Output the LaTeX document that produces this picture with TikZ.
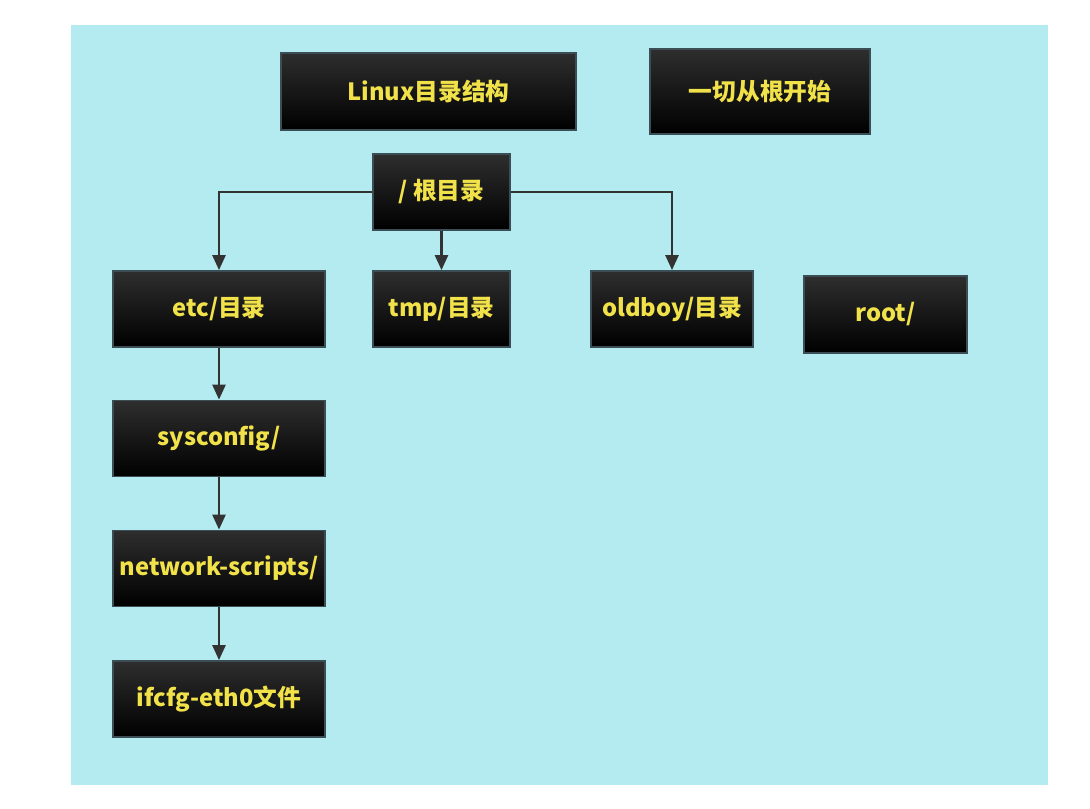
\documentclass[tikz,border=0pt]{standalone}
\usepackage{fontspec}
\setmainfont{Noto Sans CJK SC}
\usetikzlibrary{arrows.meta}
\definecolor{bgcyan}{HTML}{B4EBF0}
\definecolor{txtyellow}{HTML}{F2E24A}
\definecolor{boxtop}{HTML}{2E2E2E}
\definecolor{boxline}{HTML}{3C4E55}
\definecolor{arrowgray}{HTML}{333333}
\begin{document}
\begin{tikzpicture}[
	dirbox/.style={draw=boxline,line width=1pt,top color=boxtop,bottom color=black,
		text=txtyellow,font=\fontsize{13.5}{16}\selectfont\bfseries,inner sep=0pt,
		minimum width=4.24cm,minimum height=1.52cm},
	link/.style={arrowgray,line width=1.4pt,-{Triangle[width=0.26cm,length=0.3cm]}}
	]
	\useasboundingbox (0,0) rectangle (21.8,-16.16);
	\fill[bgcyan] (1.42,-0.5) rectangle (20.96,-15.7);
	
	\node[dirbox,minimum width=5.9cm,minimum height=1.54cm] (title) at (8.57,-1.83) {Linux目录结构};
	\node[dirbox,minimum width=4.4cm,minimum height=1.7cm] (motto) at (15.2,-1.83) {一切从根开始};
	\node[dirbox,minimum width=2.74cm] (rootdir) at (8.83,-3.84) {/ 根目录};
	\node[dirbox] (etc) at (4.38,-6.18) {etc/目录};
	\node[dirbox,minimum width=2.74cm] (tmp) at (8.83,-6.18) {tmp/目录};
	\node[dirbox,minimum width=3.24cm] (oldboy) at (13.44,-6.18) {oldboy/目录};
	\node[dirbox,minimum width=3.26cm,minimum height=1.54cm] (roothome) at (17.71,-6.29) {root/};
	\node[dirbox] (sysconfig) at (4.38,-8.77) {sysconfig/};
	\node[dirbox] (netscripts) at (4.38,-11.37) {network-scripts/};
	\node[dirbox] (ifcfg) at (4.38,-13.98) {ifcfg-eth0文件};
	
	\draw[link] (rootdir.west) -| (etc.north);
	\draw[link] (rootdir) -- (tmp);
	\draw[link] (rootdir.east) -| (oldboy.north);
	\draw[link] (etc) -- (sysconfig);
	\draw[link] (sysconfig) -- (netscripts);
	\draw[link] (netscripts) -- (ifcfg);
\end{tikzpicture}
\end{document}
